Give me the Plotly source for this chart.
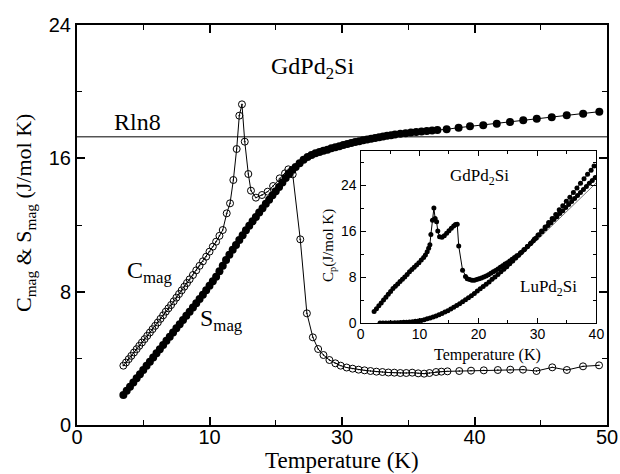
import plotly.graph_objects as go

# ---------------- main panel data (Temperature in K) ----------------
t_cmag = [3.5, 3.7, 3.9, 4.1, 4.3, 4.5, 4.7, 4.9, 5.1, 5.3, 5.5, 5.7, 5.9, 6.1, 6.3, 6.5, 6.7, 6.9,
          7.1, 7.3, 7.5, 7.7, 7.9, 8.1, 8.3, 8.5, 8.75, 9.0, 9.25, 9.5, 9.75, 10.0, 10.25, 10.5,
          10.75, 11.0, 11.3, 11.55, 11.8, 12.05, 12.25, 12.45, 12.66, 12.93, 13.13, 13.5, 13.96,
          14.39, 14.8, 15.3, 15.7, 15.95, 16.28, 16.85, 17.35, 17.8, 18.2, 18.6, 19.05, 19.5,
          19.9, 20.35, 20.8, 21.25, 21.7, 22.15, 22.6, 23.05, 23.5, 23.95, 24.4, 24.85, 25.3,
          25.75, 26.2, 26.6, 27.1, 27.5, 27.96, 28.85, 29.74, 30.7, 31.76, 32.7, 33.66, 34.68,
          35.87, 36.97, 38.19, 39.4]
c_mag = [3.56, 3.75, 3.95, 4.15, 4.35, 4.55, 4.75, 4.95, 5.15, 5.35, 5.55, 5.75, 5.95, 6.15, 6.37,
         6.58, 6.8, 7.0, 7.2, 7.42, 7.64, 7.86, 8.08, 8.3, 8.52, 8.74, 9.0, 9.28, 9.55, 9.82, 10.1,
         10.4, 10.7, 11.0, 11.35, 11.7, 12.7, 13.3, 14.7, 16.56, 18.56, 19.24, 17.0, 15.06, 14.06,
         13.64, 13.8, 14.0, 14.34, 14.8, 15.1, 15.34, 15.04, 11.14, 6.7, 5.26, 4.56, 4.2, 3.9,
         3.7, 3.56, 3.45, 3.38, 3.32, 3.28, 3.24, 3.2, 3.18, 3.15, 3.14, 3.12, 3.12, 3.14, 3.1,
         3.08, 3.12, 3.18, 3.2, 3.22, 3.24, 3.26, 3.28, 3.3, 3.32, 3.32, 3.24, 3.46, 3.3, 3.52,
         3.58]

t_smag = [3.5, 3.75, 4.0, 4.25, 4.5, 4.75, 5.0, 5.25, 5.5, 5.75, 6.0, 6.25, 6.5, 6.75, 7.0, 7.25,
          7.5, 7.75, 8.0, 8.25, 8.5, 8.75, 9.0, 9.25, 9.5, 9.75, 10.0, 10.25, 10.5, 10.75, 11.0,
          11.25, 11.5, 11.75, 12.0, 12.25, 12.5, 12.75, 13.0, 13.25, 13.5, 13.75, 14.0, 14.25,
          14.5, 14.75, 15.0, 15.25, 15.5, 15.75, 16.0, 16.25, 16.5, 16.8, 17.1, 17.4, 17.7, 18.0,
          18.3, 18.6, 18.9, 19.2, 19.5, 19.8, 20.1, 20.4, 20.7, 21.0, 21.3, 21.6, 21.9, 22.2,
          22.5, 22.8, 23.1, 23.4, 23.7, 24.0, 24.4, 24.8, 25.2, 25.6, 26.0, 26.4, 26.8, 27.2,
          27.9, 28.8, 29.66, 30.66, 31.68, 32.68, 33.68, 34.7, 35.83, 36.96, 38.2, 39.42]
s_mag = [1.8, 2.05, 2.3, 2.55, 2.8, 3.05, 3.3, 3.55, 3.8, 4.05, 4.3, 4.55, 4.8, 5.05, 5.3, 5.55,
         5.8, 6.05, 6.3, 6.55, 6.8, 7.05, 7.3, 7.56, 7.82, 8.08, 8.35, 8.62, 8.9, 9.22, 9.56,
         9.9, 10.22, 10.52, 10.8, 11.1, 11.38, 11.68, 11.95, 12.22, 12.48, 12.75, 13.0, 13.27,
         13.52, 13.78, 14.03, 14.28, 14.55, 14.82, 15.06, 15.3, 15.48, 15.7, 15.92, 16.08, 16.2,
         16.3, 16.38, 16.45, 16.52, 16.6, 16.66, 16.72, 16.8, 16.86, 16.92, 16.98, 17.03, 17.08,
         17.13, 17.18, 17.22, 17.27, 17.31, 17.35, 17.39, 17.43, 17.47, 17.51, 17.55, 17.58,
         17.61, 17.64, 17.67, 17.7, 17.74, 17.84, 17.92, 17.98, 18.08, 18.18, 18.28, 18.38,
         18.46, 18.58, 18.68, 18.8]

rln8_t = [0, 40]
rln8_val = [17.29, 17.29]

x_tickvals = [0, 10, 20, 30, 40]
x_ticktext = ["0", "10", "30", "40", "50"]
y_tickvals = [0, 8, 16, 24]

# ---------------- inset data ----------------
t_gd = [2.3, 2.7, 3.1, 3.5, 3.9, 4.3, 4.7, 5.1, 5.5, 5.9, 6.3, 6.7, 7.1, 7.5, 7.9, 8.3, 8.7, 9.1,
        9.5, 9.9, 10.3, 10.7, 11.0, 11.3, 11.55, 11.76, 11.93, 12.2, 12.44, 12.65, 12.9, 13.1,
        13.4, 13.8, 14.2, 14.6, 15.0, 15.4, 15.8, 16.1, 16.4, 16.65, 17.3, 17.8, 18.1, 18.5,
        18.9, 19.3, 19.7, 20.1, 20.5, 20.9, 21.3, 21.7, 22.1, 22.5, 22.9, 23.3, 23.7, 24.1,
        24.5, 24.9, 25.3, 25.7, 26.1, 26.5, 27.1, 27.7, 28.3, 28.9, 29.5, 30.1, 30.7, 31.3,
        31.9, 32.5, 33.1, 33.7, 34.3, 34.9, 35.5, 36.1, 36.7, 37.3, 37.9, 38.5, 39.1, 39.6]
cp_gd = [2.0, 2.5, 3.0, 3.5, 4.0, 4.5, 5.0, 5.5, 6.0, 6.4, 6.8, 7.2, 7.6, 8.0, 8.45, 8.9, 9.3, 9.7,
         10.1, 10.5, 10.95, 11.4, 11.85, 12.4, 13.0, 13.6, 15.4, 17.9, 20.0, 18.2, 17.6, 16.0,
         15.0, 14.9, 15.2, 15.6, 16.05, 16.5, 16.9, 17.15, 17.2, 13.4, 9.2, 8.1, 7.7, 7.55,
         7.45, 7.45, 7.55, 7.7, 7.85, 8.0, 8.2, 8.4, 8.65, 8.9, 9.15, 9.4, 9.7, 9.95, 10.25,
         10.5, 10.8, 11.1, 11.4, 11.7, 12.2, 12.75, 13.3, 13.9, 14.6, 15.3, 16.0, 16.7, 17.5,
         18.2, 18.9, 19.7, 20.4, 21.2, 21.9, 22.7, 23.5, 24.3, 25.1, 25.9, 26.6, 27.3]

t_lu = [3.3, 3.8, 4.3, 4.8, 5.3, 5.8, 6.3, 6.8, 7.3, 7.8, 8.3, 8.8, 9.3, 9.8, 10.3, 10.8, 11.3,
        11.8, 12.3, 12.8, 13.3, 13.8, 14.3, 14.8, 15.3, 15.8, 16.3, 16.8, 17.3, 17.8, 18.3,
        18.8, 19.3, 19.8, 20.3, 20.8, 21.3, 21.8, 22.3, 22.8, 23.3, 23.8, 24.3, 24.8, 25.3,
        25.8, 26.3, 26.8, 27.3, 27.8, 28.3, 28.8, 29.3, 29.8, 30.3, 30.8, 31.3, 31.8, 32.3,
        32.8, 33.3, 33.8, 34.3, 34.8, 35.3, 35.8, 36.3, 36.8, 37.3, 37.8, 38.3, 38.8, 39.3,
        39.8]
cp_lu = [0.0, 0.0, 0.0, 0.01, 0.02, 0.04, 0.06, 0.08, 0.11, 0.14, 0.18, 0.23, 0.29, 0.36, 0.45,
         0.58, 0.72, 0.88, 1.05, 1.23, 1.42, 1.65, 1.9, 2.15, 2.45, 2.75, 3.05, 3.35, 3.7, 4.05,
         4.4, 4.75, 5.15, 5.55, 5.95, 6.35, 6.75, 7.15, 7.6, 8.0, 8.45, 8.9, 9.35, 9.8, 10.3,
         10.8, 11.3, 11.8, 12.3, 12.8, 13.3, 13.8, 14.3, 14.8, 15.35, 15.9, 16.4, 16.95, 17.45,
         18.0, 18.5, 19.05, 19.55, 20.1, 20.6, 21.15, 21.65, 22.2, 22.7, 23.25, 23.75, 24.3,
         24.8, 25.3]

t_ref = [22.0, 25.0, 28.0, 31.0, 34.0, 37.0, 40.0]
cp_ref = [7.0, 9.6, 12.5, 15.5, 18.5, 21.5, 24.4]

inset_x_tickvals = [0, 10, 20, 30, 40]
inset_y_tickvals = [0, 8, 16, 24]

SERIF = "Liberation Serif"
SANS = "Liberation Sans"

fig = go.Figure()

fig.add_trace(go.Scatter(x=rln8_t, y=rln8_val, mode="lines",
                         line=dict(color="black", width=1), showlegend=False))
fig.add_trace(go.Scatter(x=t_cmag, y=c_mag, mode="lines+markers",
                         line=dict(color="black", width=1),
                         marker=dict(symbol="circle-open-dot", size=7, color="black",
                                     line=dict(width=1, color="black")),
                         showlegend=False))
fig.add_trace(go.Scatter(x=t_smag, y=s_mag, mode="lines+markers",
                         line=dict(color="black", width=1),
                         marker=dict(symbol="circle", size=8, color="black"),
                         showlegend=False))

# inset
fig.add_trace(go.Scatter(x=t_ref, y=cp_ref, mode="lines", xaxis="x2", yaxis="y2",
                         line=dict(color="#777777", width=1), showlegend=False))
fig.add_trace(go.Scatter(x=t_lu, y=cp_lu, mode="lines+markers", xaxis="x2", yaxis="y2",
                         line=dict(color="black", width=1),
                         marker=dict(symbol="circle", size=5, color="black"),
                         showlegend=False))
fig.add_trace(go.Scatter(x=t_gd, y=cp_gd, mode="lines+markers", xaxis="x2", yaxis="y2",
                         line=dict(color="black", width=1),
                         marker=dict(symbol="circle", size=5, color="black"),
                         showlegend=False))

axis_common = dict(showline=True, linecolor="black", mirror="ticks", ticks="inside",
                   tickcolor="black", showgrid=False, zeroline=False, automargin=False)

fig.update_layout(
    width=620, height=474,
    margin=dict(l=77, r=13, t=25, b=49),
    paper_bgcolor="white", plot_bgcolor="white",
    xaxis=dict(domain=[0, 1], range=[0, 40], tickmode="array", tickvals=x_tickvals,
               ticktext=x_ticktext, linewidth=2, ticklen=8, tickwidth=1.5,
               ticklabelstandoff=-7,
               minor=dict(ticks="inside", tickmode="linear", tick0=0, dtick=5, ticklen=5,
                          tickwidth=1.2, tickcolor="black"),
               tickfont=dict(family=SANS, size=20, color="black"),
               **axis_common),
    yaxis=dict(domain=[0, 1], range=[0, 24], tickmode="array", tickvals=y_tickvals,
               linewidth=2, ticklen=8, tickwidth=1.5,
               minor=dict(ticks="inside", tickmode="linear", tick0=0, dtick=4, ticklen=5,
                          tickwidth=1.2, tickcolor="black"),
               tickfont=dict(family=SANS, size=20, color="black"),
               **axis_common),
    xaxis2=dict(domain=[0.535, 0.980], anchor="y2", range=[0, 40], tickmode="array",
                tickvals=inset_x_tickvals, linewidth=1.2, ticklen=5, tickwidth=1,
                ticklabelstandoff=-2,
                minor=dict(ticks="inside", tickmode="linear", tick0=0, dtick=5, ticklen=3,
                           tickwidth=1, tickcolor="black"),
                tickfont=dict(family=SANS, size=14, color="black"),
                **axis_common),
    yaxis2=dict(domain=[0.255, 0.686], anchor="x2", range=[0, 30], tickmode="array",
                tickvals=inset_y_tickvals, linewidth=1.2, ticklen=5, tickwidth=1,
                minor=dict(ticks="inside", tickmode="linear", tick0=0, dtick=4, ticklen=3,
                           tickwidth=1, tickcolor="black"),
                tickfont=dict(family=SANS, size=14, color="black"),
                **axis_common),
)

annos = [
    # axis titles
    dict(x=0.5, y=-0.088, xref="paper", yref="paper", text="Temperature (K)",
         font=dict(family=SERIF, size=23, color="black"), xanchor="center", yanchor="middle"),
    dict(x=-0.098, y=0.53, xref="paper", yref="paper",
         text="C<sub>mag</sub> &amp; S<sub>mag</sub> (J/mol K)", textangle=-90,
         font=dict(family=SERIF, size=22, color="black"), xanchor="center", yanchor="middle"),
    dict(x=0.7736, y=0.176, xref="paper", yref="paper", text="Temperature (K)",
         font=dict(family=SERIF, size=16, color="black"), xanchor="center", yanchor="middle"),
    dict(x=(329 - 77) / 530, y=(425 - 246) / 400, xref="paper", yref="paper",
         text="C<sub>p</sub>(J/mol K)", textangle=-90,
         font=dict(family=SERIF, size=15, color="black"), xanchor="center", yanchor="middle"),
    # labels
    dict(x=17.8, y=21.4, xref="x", yref="y", text="GdPd<sub>2</sub>Si",
         font=dict(family=SERIF, size=24, color="black")),
    dict(x=4.57, y=18.2, xref="x", yref="y", text="Rln8",
         font=dict(family=SERIF, size=24, color="black")),
    dict(x=5.5, y=9.2, xref="x", yref="y", text="C<sub>mag</sub>",
         font=dict(family=SERIF, size=24, color="black")),
    dict(x=10.9, y=6.3, xref="x", yref="y", text="S<sub>mag</sub>",
         font=dict(family=SERIF, size=24, color="black")),
    dict(x=20.1, y=25.4, xref="x2", yref="y2", text="GdPd<sub>2</sub>Si",
         font=dict(family=SERIF, size=17, color="black")),
    dict(x=31.9, y=6.1, xref="x2", yref="y2", text="LuPd<sub>2</sub>Si",
         font=dict(family=SERIF, size=17, color="black")),
]
for a in annos:
    a["showarrow"] = False
fig.update_layout(annotations=annos)

fig.write_html("out.html")
